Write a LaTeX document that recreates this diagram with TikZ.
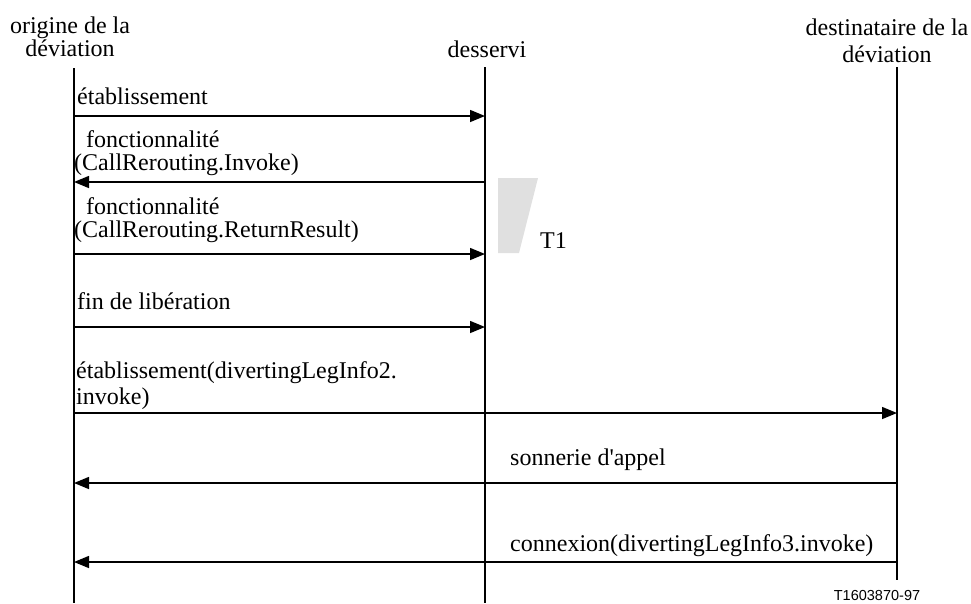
\documentclass[tikz,border=0pt]{standalone}
\usepackage{fontspec}
\setmainfont{Liberation Serif}
\setsansfont{Liberation Sans}
\usetikzlibrary{arrows.meta}
\definecolor{tonegray}{RGB}{224,224,224}
\begin{document}
\begin{tikzpicture}[x=1pt,y=-1pt,
  lifeline/.style={line width=1.6pt},
  msg/.style={line width=1.5pt,-{Triangle[length=15pt,width=12pt]}},
  lbl/.style={inner sep=0pt,anchor=base west,font=\fontsize{24}{22}\selectfont},
  hdr/.style={inner sep=0pt,anchor=base,font=\fontsize{24}{22}\selectfont},
  ref/.style={inner sep=0pt,anchor=base,font=\sffamily\fontsize{14.5}{16}\selectfont}]
\useasboundingbox (0,0) rectangle (971,603);
% headers
\node[hdr] (h1a) at (70,33) {origine de la};
\node[hdr] (h1b) at (70,56) {déviation};
\node[hdr] (h2) at (487,57) {desservi};
\node[hdr] (h3a) at (887,35) {destinataire de la};
\node[hdr] (h3b) at (887,62) {déviation};
% lifelines
\coordinate (L0) at (74,68);   \coordinate (L1) at (74,603);
\coordinate (M0) at (485,67);  \coordinate (M1) at (485,603);
\coordinate (R0) at (897,67);  \coordinate (R1) at (897,580);
\draw[lifeline] (L0) -- (L1);
\draw[lifeline] (M0) -- (M1);
\draw[lifeline] (R0) -- (R1);
% message endpoints
\coordinate (a1) at (74,116);  \coordinate (b1) at (485,116);
\coordinate (a2) at (74,182);  \coordinate (b2) at (485,182);
\coordinate (a3) at (74,254);  \coordinate (b3) at (485,254);
\coordinate (a4) at (74,327);  \coordinate (b4) at (485,327);
\coordinate (a5) at (74,413);  \coordinate (c5) at (897,413);
\coordinate (a6) at (74,483);  \coordinate (c6) at (897,483);
\coordinate (a7) at (74,562);  \coordinate (c7) at (897,562);
\draw[msg] (a1) -- (b1);
\draw[msg] (b2) -- (a2);
\draw[msg] (a3) -- (b3);
\draw[msg] (a4) -- (b4);
\draw[msg] (a5) -- (c5);
\draw[msg] (c6) -- (a6);
\draw[msg] (c7) -- (a7);
% labels
\node[lbl] (t1) at (77,104) {établissement};
\node[lbl] (t2a) at (86,147) {fonctionnalité};
\node[lbl] (t2b) at (74,170) {(CallRerouting.Invoke)};
\node[lbl] (t3a) at (86,214) {fonctionnalité};
\node[lbl] (t3b) at (74,237) {(CallRerouting.ReturnResult)};
\node[lbl] (t4) at (77,309) {fin de libération};
\node[lbl] (t5a) at (76,378) {établissement(divertingLegInfo2.};
\node[lbl] (t5b) at (76,404) {invoke)};
\node[lbl] (t6) at (510,465) {sonnerie d\textquotesingle appel};
\node[lbl] (t7) at (510,551) {connexion(divertingLegInfo3.invoke)};
% timer
\fill[tonegray] (498,178) -- (538,178) -- (519,253) -- (498,253) -- cycle;
\node[lbl] (tT1) at (540,248) {T1};
% reference
\node[ref] (rf) at (877,600) {T1603870-97};
\end{tikzpicture}
\end{document}
